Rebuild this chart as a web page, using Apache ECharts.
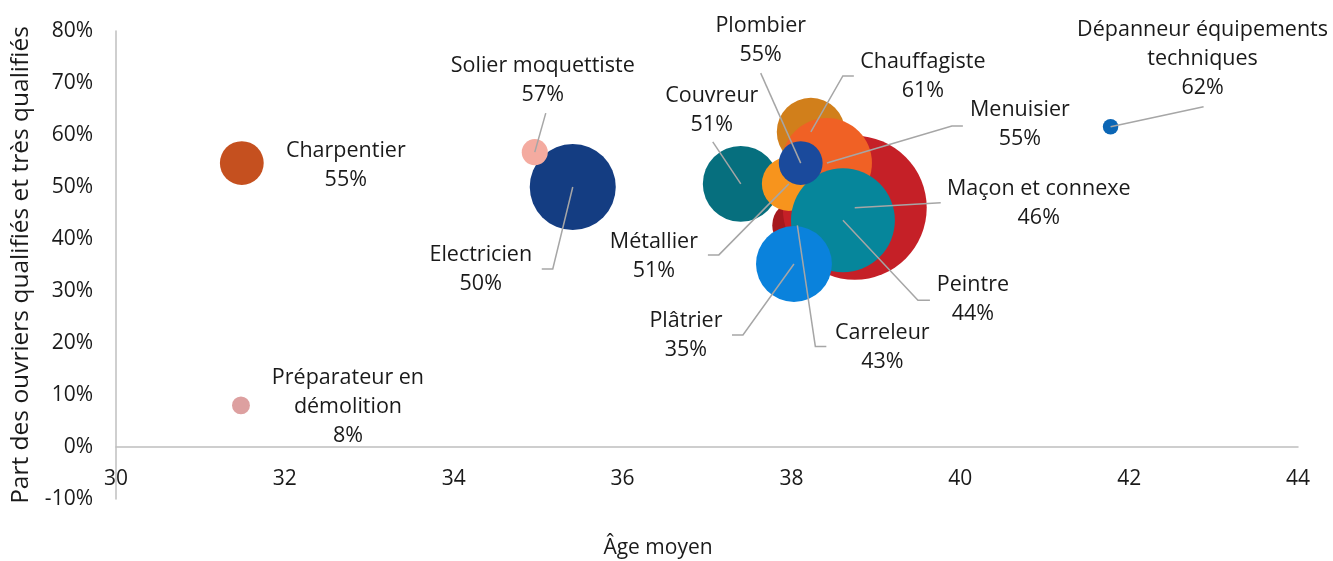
<!DOCTYPE html>
<html lang="fr">
<head>
<meta charset="utf-8">
<title>Âge moyen et qualification des ouvriers du bâtiment</title>
<script src="https://cdn.jsdelivr.net/npm/echarts@6/dist/echarts.min.js"></script>
<style>
  html, body { margin: 0; padding: 0; background: #ffffff; }
  #chart { width: 1333px; height: 561px; }
</style>
</head>
<body>
<div id="chart"></div>
<script>
// Métiers, listed in drawing order (first = drawn underneath)
const metiers = [
  'Couvreur', 'Carreleur', 'Maçon et connexe', 'Chauffagiste', 'Menuisier',
  'Métallier', 'Peintre', 'Plâtrier', 'Plombier', 'Electricien',
  'Solier moquettiste', 'Charpentier', 'Préparateur en démolition',
  'Dépanneur équipements techniques'
];
// Âge moyen des ouvriers
const ageMoyen = [37.40, 38.07, 38.75, 38.23, 38.42, 37.97, 38.61, 38.03, 38.11, 35.41, 34.96, 31.49, 31.48, 41.78];
// Part des ouvriers qualifiés et très qualifiés (%)
const partQualifies = [50.6, 42.6, 46.0, 60.6, 54.6, 50.6, 43.6, 35.2, 54.6, 50.0, 56.7, 54.6, 8.0, 61.6];
// Effectifs (milliers) : surface des bulles
const effectifs = [144, 63, 518, 116, 203, 73, 270, 144, 48, 185, 17, 48, 8, 6];

// Tick values
const xTicks = { min: 30, max: 44, step: 2 };
const yTicks = { min: -10, max: 80, step: 10 };

// Bubble colours, one per métier
const couleurs = [
  '#066f7e', '#a6191e', '#c52027', '#d17f1b', '#f06125',
  '#f7941d', '#06869b', '#0a82dc', '#1a4a9c', '#143d82',
  '#f4aba0', '#c5501f', '#dda0a0', '#0b66b5'
];

// Label layout: text offset and leader-line path, in pixels from the bubble centre
const labelLayout = {
  'Couvreur':            { text: 'Couvreur', t: [-29, -88], path: [[-28, -42]] },
  'Carreleur':           { text: 'Carreleur', t: [85, 107], path: [[18, 121], [29, 121]] },
  'Maçon et connexe':    { text: 'Maçon et connexe', t: [184, -19], path: [[86, -5]] },
  'Chauffagiste':        { text: 'Chauffagiste', t: [112, -70], path: [[32, -56], [43, -56]] },
  'Menuisier':           { text: 'Menuisier', t: [193, -53], path: [[125, -37], [136, -37]] },
  'Métallier':           { text: 'Métallier', t: [-135, 58], path: [[-70, 71], [-81, 71]] },
  'Peintre':             { text: 'Peintre', t: [130, 65], path: [[75, 80], [87, 80]] },
  'Plâtrier':            { text: 'Plâtrier', t: [-108, 57], path: [[-51, 71], [-62, 71]] },
  'Plombier':            { text: 'Plombier', t: [-40, -137], path: [[-40, -90]] },
  'Electricien':         { text: 'Electricien', t: [-92, 68], path: [[-20, 82], [-31, 82]] },
  'Solier moquettiste':  { text: 'Solier moquettiste', t: [8, -86], path: [[11, -39]] },
  'Charpentier':         { text: 'Charpentier', t: [104, -12], path: null },
  'Préparateur en démolition': { text: 'Préparateur en\ndémolition', t: [107, -28], path: null },
  'Dépanneur équipements techniques': { text: 'Dépanneur équipements\ntechniques', t: [92, -97], path: [[93, -20]] }
};

const FONT = '"Open Sans", "Noto Sans", sans-serif';
const TEXT = '#1a1a1a';
const LINE_H = 29;

const points = metiers.map((m, i) => ({
  name: m,
  value: [ageMoyen[i], partQualifies[i], effectifs[i]],
  itemStyle: { color: couleurs[i] }
}));

const chart = echarts.init(document.getElementById('chart'), null, { renderer: 'canvas' });

chart.setOption({
  animation: false,
  backgroundColor: '#ffffff',
  textStyle: { fontFamily: FONT },
  grid: { left: 116, right: 35, top: 31, bottom: 62, containLabel: false, outerBoundsMode: 'none' },
  xAxis: {
    type: 'value',
    min: xTicks.min, max: xTicks.max, interval: xTicks.step,
    name: 'Âge moyen',
    nameLocation: 'middle',
    nameGap: 39,
    nameTextStyle: { fontFamily: FONT, fontSize: 21, color: TEXT, padding: [0, 98, 0, 0] },
    // the axis line crosses the value axis at 0 %, tick labels sit just under it
    axisLine: { show: true, onZero: true, lineStyle: { color: '#bfbfbf', width: 1.5 } },
    axisTick: { show: false },
    splitLine: { show: false },
    axisLabel: { fontFamily: FONT, fontSize: 21, color: TEXT, margin: -30 }
  },
  yAxis: {
    type: 'value',
    min: yTicks.min, max: yTicks.max, interval: yTicks.step,
    name: 'Part des ouvriers qualifiés et très qualifiés',
    nameLocation: 'middle',
    nameGap: 57,
    nameTextStyle: { fontFamily: FONT, fontSize: 24.5, color: TEXT },
    axisLine: { show: true, onZero: false, lineStyle: { color: '#bfbfbf', width: 1.5 } },
    axisTick: { show: false },
    splitLine: { show: false },
    axisLabel: { fontFamily: FONT, fontSize: 21, color: TEXT, margin: 23, formatter: '{value}%' }
  },
  series: [
    {
      type: 'scatter',
      data: points,
      symbol: 'circle',
      symbolSize: (val) => Math.sqrt(val[2] * 40),
      itemStyle: { opacity: 1 },
      silent: true,
      z: 2
    },
    {
      // Data labels with leader lines
      type: 'custom',
      coordinateSystem: 'cartesian2d',
      data: points.map(p => p.value),
      encode: { x: 0, y: 1 },
      silent: true,
      clip: false,
      z: 5,
      renderItem: (params, api) => {
        const i = params.dataIndex;
        const c = api.coord([api.value(0), api.value(1)]);
        const lay = labelLayout[metiers[i]];
        const children = [];
        if (lay.path) {
          const pts = [[c[0], c[1]]].concat(lay.path.map(p => [c[0] + p[0], c[1] + p[1]]));
          children.push({
            type: 'polyline',
            shape: { points: pts },
            style: { stroke: '#a6a6a6', lineWidth: 1.5, fill: null }
          });
        }
        const txt = lay.text + '\n' + Math.round(api.value(1)) + '%';
        children.push({
          type: 'text',
          style: {
            text: txt,
            x: c[0] + lay.t[0],
            y: c[1] + lay.t[1] - LINE_H / 2,
            align: 'center',
            verticalAlign: 'top',
            font: '21.5px ' + FONT,
            lineHeight: LINE_H,
            fill: TEXT
          }
        });
        return { type: 'group', children };
      }
    }
  ]
});
</script>
</body>
</html>
